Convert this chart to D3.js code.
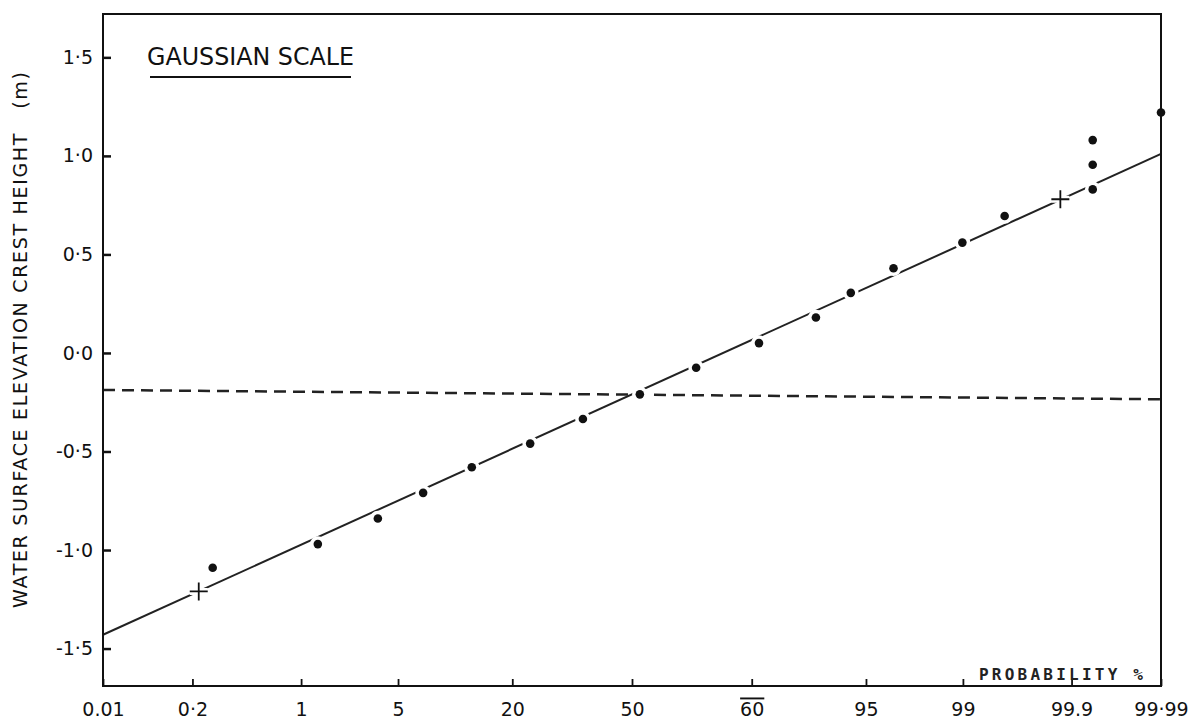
<!DOCTYPE html>
<html>
<head>
<meta charset="utf-8">
<script src="https://cdn.jsdelivr.net/npm/d3@7"></script>
<style>
  body { margin: 0; background: #fff; }
  svg { display: block; font-family: "DejaVu Sans", sans-serif; }
</style>
</head>
<body>
<div id="chart"></div>
<script>
// probability ticks (%) and the labels printed under them
const probTicks = [0.01, 0.1, 1, 5, 20, 50, 80, 95, 99, 99.9, 99.99];
const probLabels = ["0.01", "0·2", "1", "5", "20", "50", "60", "95", "99", "99.9", "99·99"];

const heightTicks = [-1.5, -1.0, -0.5, 0.0, 0.5, 1.0, 1.5];
const heightLabels = ["-1·5", "-1·0", "-0·5", "0·0", "0·5", "1·0", "1·5"];

// measured points
const pointProb = [0.16, 1.36, 3.7, 7.1, 13.0, 23.7, 36.5, 52.2, 67.4, 81.4,
  90.2, 93.8, 96.7, 98.99, 99.56, 99.94, 99.94, 99.94, 99.99];
const pointHeight = [-1.09, -0.97, -0.84, -0.71, -0.58, -0.46, -0.335, -0.21, -0.075, 0.05,
  0.18, 0.305, 0.43, 0.56, 0.695, 0.83, 0.955, 1.08, 1.22];

// the two "+" marks
const crossProb = [0.116, 99.87];
const crossHeight = [-1.21, 0.78];

// fitted gaussian line and mean level (end points)
const fitProb = [0.01, 99.99];
const fitHeight = [-1.43, 1.01];
const meanProb = [0.01, 99.99];
const meanHeight = [-0.188, -0.235];

const width = 1191;
const height = 728;
const plotLeft = 103, plotRight = 1161, plotTop = 14, plotBottom = 686;

// inverse normal cdf (Acklam)
function probit(p) {
  const a = [-39.69683028665376, 220.9460984245205, -275.9285104469687, 138.357751867269, -30.66479806614716, 2.506628277459239];
  const b = [-54.47609879822406, 161.5858368580409, -155.6989798598866, 66.80131188771972, -13.28068155288572];
  const c = [-0.007784894002430293, -0.3223964580411365, -2.400758277161838, -2.549732539343734, 4.374664141464968, 2.938163982698783];
  const d = [0.007784695709041462, 0.3224671290700398, 2.445134137142996, 3.754408661907416];
  const pl = 0.02425;
  let q, r;
  if (p < pl) {
    q = Math.sqrt(-2 * Math.log(p));
    return (((((c[0]*q+c[1])*q+c[2])*q+c[3])*q+c[4])*q+c[5]) / ((((d[0]*q+d[1])*q+d[2])*q+d[3])*q+1);
  } else if (p <= 1 - pl) {
    q = p - 0.5; r = q * q;
    return (((((a[0]*r+a[1])*r+a[2])*r+a[3])*r+a[4])*r+a[5])*q / (((((b[0]*r+b[1])*r+b[2])*r+b[3])*r+b[4])*r+1);
  }
  q = Math.sqrt(-2 * Math.log(1 - p));
  return -(((((c[0]*q+c[1])*q+c[2])*q+c[3])*q+c[4])*q+c[5]) / ((((d[0]*q+d[1])*q+d[2])*q+d[3])*q+1);
}

const z = d3.scaleLinear()
  .domain([probit(0.0001), probit(0.9999)])
  .range([plotLeft, plotRight]);
const x = (pct) => z(probit(pct / 100));

const y = d3.scaleLinear().domain([-1.69, 1.72]).range([plotBottom, plotTop]);

const svg = d3.select("#chart").append("svg")
  .attr("width", width)
  .attr("height", height);

// mean level (dashed)
const line = d3.line().x((d) => x(d[0])).y((d) => y(d[1]));

svg.append("path")
  .datum(d3.zip(meanProb, meanHeight))
  .attr("d", line)
  .attr("fill", "none")
  .attr("stroke", "#222")
  .attr("stroke-width", 2.5)
  .attr("stroke-dasharray", "12 7");

// fitted line
svg.append("path")
  .datum(d3.zip(fitProb, fitHeight))
  .attr("d", line)
  .attr("fill", "none")
  .attr("stroke", "#222")
  .attr("stroke-width", 2);

// data points, white halo makes the little breaks in the line
const pts = d3.zip(pointProb, pointHeight);
svg.append("g").selectAll("circle")
  .data(pts)
  .enter()
  .append("circle")
  .attr("cx", (d) => x(d[0]))
  .attr("cy", (d) => y(d[1]))
  .attr("r", 4.3)
  .attr("fill", "#111")
  .attr("stroke", "#fff")
  .attr("stroke-width", 7)
  .attr("paint-order", "stroke");

// crosses
const crosses = d3.zip(crossProb, crossHeight);
const cs = 9;
const crossG = svg.append("g").selectAll("g")
  .data(crosses)
  .enter()
  .append("g")
  .attr("transform", (d) => `translate(${x(d[0])},${y(d[1])})`);
crossG.append("path")
  .attr("d", `M${-cs},0H${cs}M0,${-cs}V${cs}`)
  .attr("stroke", "#fff")
  .attr("stroke-width", 7);
crossG.append("path")
  .attr("d", `M${-cs},0H${cs}M0,${-cs}V${cs}`)
  .attr("stroke", "#111")
  .attr("stroke-width", 1.8);

// frame
svg.append("rect")
  .attr("x", plotLeft)
  .attr("y", plotTop)
  .attr("width", plotRight - plotLeft)
  .attr("height", plotBottom - plotTop)
  .attr("fill", "none")
  .attr("stroke", "#111")
  .attr("stroke-width", 2);

// axes
const xAxis = d3.axisBottom(z)
  .tickValues(probTicks.map((p) => probit(p / 100)))
  .tickFormat((d, i) => probLabels[i])
  .tickSizeInner(-7)
  .tickSizeOuter(0)
  .tickPadding(17);

const gx = svg.append("g")
  .attr("transform", `translate(0,${plotBottom})`)
  .call(xAxis);
gx.select(".domain").remove();
gx.selectAll(".tick line").attr("stroke", "#111").attr("stroke-width", 1.8);
gx.selectAll(".tick text")
  .style("font-size", "19px")
  .style("font-family", "DejaVu Sans")
  .attr("fill", "#111")
  .style("text-decoration", (d, i) => (probLabels[i] === "60" ? "overline" : null));

const yAxis = d3.axisLeft(y)
  .tickValues(heightTicks)
  .tickFormat((d, i) => heightLabels[i])
  .tickSizeInner(-8)
  .tickSizeOuter(0)
  .tickPadding(10);

const gy = svg.append("g")
  .attr("transform", `translate(${plotLeft},0)`)
  .call(yAxis);
gy.select(".domain").remove();
gy.selectAll(".tick line").attr("stroke", "#111").attr("stroke-width", 2.5);
gy.selectAll(".tick text")
  .style("font-size", "19px")
  .style("font-family", "DejaVu Sans")
  .attr("fill", "#111");

// y label
svg.append("text")
  .attr("transform", "translate(27,340) rotate(-90)")
  .attr("text-anchor", "middle")
  .attr("textLength", 536)
  .attr("lengthAdjust", "spacing")
  .style("font-size", "19px")
  .attr("fill", "#111")
  .text("WATER SURFACE ELEVATION CREST HEIGHT\u00a0\u00a0\u00a0(m)");

// title with underline
svg.append("text")
  .attr("x", 147)
  .attr("y", 65)
  .attr("textLength", 207)
  .attr("lengthAdjust", "spacingAndGlyphs")
  .style("font-size", "24px")
  .attr("fill", "#111")
  .text("GAUSSIAN SCALE");
svg.append("line")
  .attr("x1", 150).attr("x2", 351)
  .attr("y1", 77).attr("y2", 77)
  .attr("stroke", "#111")
  .attr("stroke-width", 2);

// x axis name, dot-matrix look
svg.append("text")
  .attr("x", 979)
  .attr("y", 680)
  .attr("textLength", 164)
  .style("font-family", "DejaVu Sans Mono")
  .style("font-size", "16px")
  .style("font-weight", "bold")
  .attr("fill", "#222")
  .text("PROBABILITY %");
</script>
</body>
</html>
